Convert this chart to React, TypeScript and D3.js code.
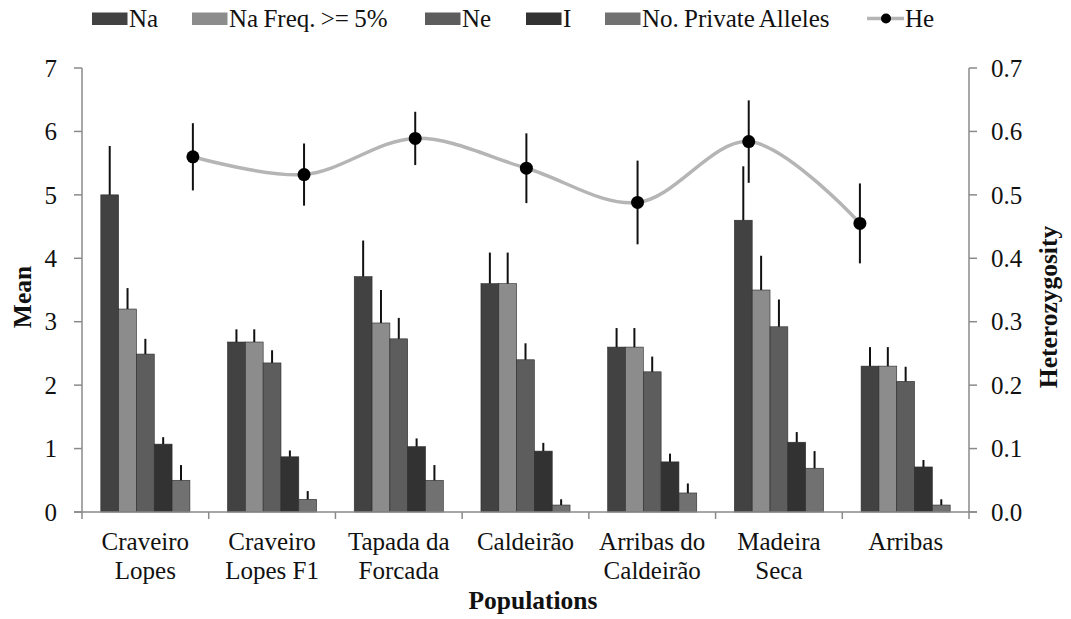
import React from 'react';
import * as d3 from 'd3';

// populations (x categories), two-line labels
const populations = [
  'Craveiro Lopes',
  'Craveiro Lopes F1',
  'Tapada da Forcada',
  'Caldeirão',
  'Arribas do Caldeirão',
  'Madeira Seca',
  'Arribas',
];
const popLabels = [
  ['Craveiro', 'Lopes'],
  ['Craveiro', 'Lopes F1'],
  ['Tapada da', 'Forcada'],
  ['Caldeirão'],
  ['Arribas do', 'Caldeirão'],
  ['Madeira', 'Seca'],
  ['Arribas'],
];

const seriesNames = ['Na', 'Na Freq. >= 5%', 'Ne', 'I', 'No. Private Alleles'];
const seriesColors = ['#424242', '#8c8c8c', '#5d5d5d', '#323232', '#717171'];

const naValues = [5.0, 2.68, 3.71, 3.6, 2.6, 4.6, 2.3];
const naErr = [0.77, 0.2, 0.57, 0.49, 0.3, 0.85, 0.3];
const naFreqValues = [3.2, 2.68, 2.98, 3.6, 2.6, 3.5, 2.3];
const naFreqErr = [0.33, 0.2, 0.52, 0.49, 0.3, 0.54, 0.3];
const neValues = [2.49, 2.35, 2.73, 2.4, 2.21, 2.92, 2.06];
const neErr = [0.24, 0.2, 0.33, 0.26, 0.24, 0.43, 0.23];
const iValues = [1.07, 0.87, 1.03, 0.96, 0.79, 1.1, 0.71];
const iErr = [0.11, 0.1, 0.13, 0.13, 0.13, 0.16, 0.11];
const privValues = [0.5, 0.2, 0.5, 0.11, 0.3, 0.69, 0.11];
const privErr = [0.24, 0.13, 0.24, 0.09, 0.15, 0.27, 0.09];

const heValues = [0.56, 0.532, 0.589, 0.542, 0.488, 0.584, 0.455];
const heErr = [0.053, 0.049, 0.042, 0.055, 0.066, 0.065, 0.063];

const leftTicks = [0, 1, 2, 3, 4, 5, 6, 7];
const rightTicks = [0, 0.1, 0.2, 0.3, 0.4, 0.5, 0.6, 0.7];

const W = 1071;
const H = 619;
const left = 82;
const right = 969;
const top = 68;
const bottom = 512;
const FONT = '"Liberation Serif"';
const AXIS = '#8a8a8a';
const FS = 25;

export default function App() {
  const seriesVals = [naValues, naFreqValues, neValues, iValues, privValues];
  const seriesErrs = [naErr, naFreqErr, neErr, iErr, privErr];

  const x0 = d3.scaleBand<string>().domain(populations).range([left, right]).padding(0);
  const bw = x0.bandwidth();
  const groupW = bw * 0.703;
  const x1 = d3.scaleBand<number>().domain(d3.range(seriesNames.length)).range([0, groupW]).padding(0);
  const y = d3.scaleLinear().domain([0, 7]).range([bottom, top]);
  const y2 = d3.scaleLinear().domain([0, 0.7]).range([bottom, top]);
  // secondary category axis for He (Excel places it on a separate horizontal axis)
  const plotW = right - left;
  const xHe = d3.scalePoint<string>().domain(populations).range([left + plotW * 0.125, left + plotW * 0.877]);

  const hePts: [number, number][] = populations.map((p, i) => [xHe(p)!, y2(heValues[i])]);
  const heLine = d3.line().curve(d3.curveCatmullRom.alpha(0.5))(hePts) || '';

  const legendX = [92, 192, 425, 526, 605];
  const legendHeX = 867;
  const txt = { fontFamily: FONT, fill: '#111' };

  return (
    <svg width={W} height={H} style={{ position: 'absolute', left: 0, top: 0, background: '#fff' }}>
      {/* legend */}
      {seriesNames.map((s, i) => (
        <g key={s}>
          <rect x={legendX[i]} y={12.5} width={35.5} height={12.5} fill={seriesColors[i]} />
          <text x={legendX[i] + 37} y={26.5} fontSize={FS} style={{ ...txt, wordSpacing: -1 }}>{s}</text>
        </g>
      ))}
      <line x1={legendHeX} x2={legendHeX + 37} y1={18.5} y2={18.5} stroke="#b5b5b5" strokeWidth={3.5} />
      <circle cx={legendHeX + 19} cy={18.5} r={5} fill="#000" />
      <text x={legendHeX + 38} y={26.5} fontSize={FS} style={txt}>He</text>

      {/* bars */}
      {populations.map((p, gi) => (
        <g key={p} transform={`translate(${x0(p)! + (bw - groupW) / 2},0)`}>
          {seriesVals.map((vals, si) => (
            <g key={si}>
              <rect
                x={x1(si)!}
                y={y(vals[gi])}
                width={x1.bandwidth()}
                height={y(0) - y(vals[gi])}
                fill={seriesColors[si]}
                stroke="#2b2b2b"
                strokeWidth={0.6}
              />
              <line
                x1={x1(si)! + x1.bandwidth() / 2}
                x2={x1(si)! + x1.bandwidth() / 2}
                y1={y(vals[gi])}
                y2={y(vals[gi] + seriesErrs[si][gi])}
                stroke="#111"
                strokeWidth={2}
              />
            </g>
          ))}
        </g>
      ))}

      {/* axes */}
      <line x1={left} x2={left} y1={top} y2={bottom} stroke={AXIS} strokeWidth={1.5} />
      <line x1={right} x2={right} y1={top} y2={bottom} stroke={AXIS} strokeWidth={1.5} />
      <line x1={left - 8} x2={right + 8} y1={bottom} y2={bottom} stroke={AXIS} strokeWidth={1.5} />
      {leftTicks.map((t) => (
        <g key={t}>
          <line x1={left - 8} x2={left} y1={y(t)} y2={y(t)} stroke={AXIS} strokeWidth={1.5} />
          <text x={57} y={y(t)} dy="0.35em" textAnchor="end" fontSize={FS} style={txt}>{t}</text>
        </g>
      ))}
      {rightTicks.map((t) => (
        <g key={t}>
          <line x1={right} x2={right + 8} y1={y2(t)} y2={y2(t)} stroke={AXIS} strokeWidth={1.5} />
          <text x={991} y={y2(t)} dy="0.35em" textAnchor="start" fontSize={FS} style={txt}>{t.toFixed(1)}</text>
        </g>
      ))}
      {populations.map((p) => (
        <line key={p} x1={x0(p)!} x2={x0(p)!} y1={bottom} y2={bottom + 7} stroke={AXIS} strokeWidth={1.5} />
      ))}
      <line x1={right} x2={right} y1={bottom} y2={bottom + 7} stroke={AXIS} strokeWidth={1.5} />
      {populations.map((p, i) => (
        <text key={p} x={x0(p)! + bw / 2} y={550} textAnchor="middle" fontSize={FS} style={txt}>
          {popLabels[i].map((l, li) => (
            <tspan key={li} x={x0(p)! + bw / 2} y={550 + li * 28.5}>{l}</tspan>
          ))}
        </text>
      ))}

      {/* He line */}
      <path d={heLine} fill="none" stroke="#b5b5b5" strokeWidth={3.5} />
      {populations.map((p, i) => (
        <g key={p}>
          <line
            x1={xHe(p)!}
            x2={xHe(p)!}
            y1={y2(heValues[i] - heErr[i])}
            y2={y2(heValues[i] + heErr[i])}
            stroke="#111"
            strokeWidth={2}
          />
          <circle cx={xHe(p)!} cy={y2(heValues[i])} r={6.5} fill="#000" />
        </g>
      ))}

      {/* titles */}
      <text x={533} y={609} textAnchor="middle" fontSize={25.5} fontWeight="bold" style={txt}>Populations</text>
      <text transform="translate(31,297) rotate(-90)" textAnchor="middle" fontSize={25.5} fontWeight="bold" style={txt}>Mean</text>
      <text transform="translate(1057,307) rotate(-90)" textAnchor="middle" fontSize={25.5} fontWeight="bold" style={txt}>Heterozygosity</text>
    </svg>
  );
}
